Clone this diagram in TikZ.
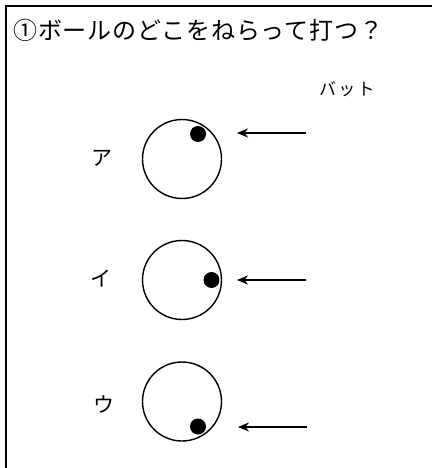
\documentclass[tikz,border=0pt]{standalone}
\usepackage{fontspec}
\newfontfamily\jpfont{Noto Sans CJK JP}
\newfontfamily\jptitle[LetterSpace=3.5]{Noto Sans CJK JP}
\newfontfamily\jpbat[LetterSpace=13]{Noto Sans CJK JP}
\usetikzlibrary{arrows.meta}
\begin{document}
\begin{tikzpicture}[x=1pt,y=-1pt,
  frameline/.style={line width=1.8pt},
  ball/.style={circle,draw,line width=1.4pt,minimum size=79pt,inner sep=0pt},
  spot/.style={circle,fill=black,minimum size=16pt,inner sep=0pt},
  batarrow/.style={line width=2.6pt,-{Stealth[length=11pt,width=9pt]}},
  choice/.style={font=\jpfont\fontsize{21}{21}\selectfont,inner sep=0pt}]
\useasboundingbox (0,0) rectangle (432,468);
\draw[frameline] (6,468) -- (6,6) -- (432,6);
\node[anchor=west,inner sep=0pt,font=\jptitle\fontsize{24}{24}\selectfont] (title) at (13,30) {①ボールのどこをねらって打つ？};
\node[anchor=west,inner sep=0pt,font=\jpbat\fontsize{17}{17}\selectfont] (bat) at (319,89) {バット};
% A
\node[choice] (la) at (102,158) {ア};
\node[ball] (b1) at (182,159) {};
\node[spot] (s1) at (198,134) {};
\coordinate (t1) at (306,133);
\coordinate (h1) at (237,133);
\draw[batarrow] (t1) -- (h1);
% I
\node[choice] (li) at (101,279) {イ};
\node[ball] (b2) at (182,280) {};
\node[spot] (s2) at (211.5,280) {};
\coordinate (t2) at (306,280);
\coordinate (h2) at (237,280);
\draw[batarrow] (t2) -- (h2);
% U
\node[choice] (lu) at (104,404) {ウ};
\node[ball] (b3) at (182,401.5) {};
\node[spot] (s3) at (198,426.5) {};
\coordinate (t3) at (307,427);
\coordinate (h3) at (238,427);
\draw[batarrow] (t3) -- (h3);
\end{tikzpicture}
\end{document}
